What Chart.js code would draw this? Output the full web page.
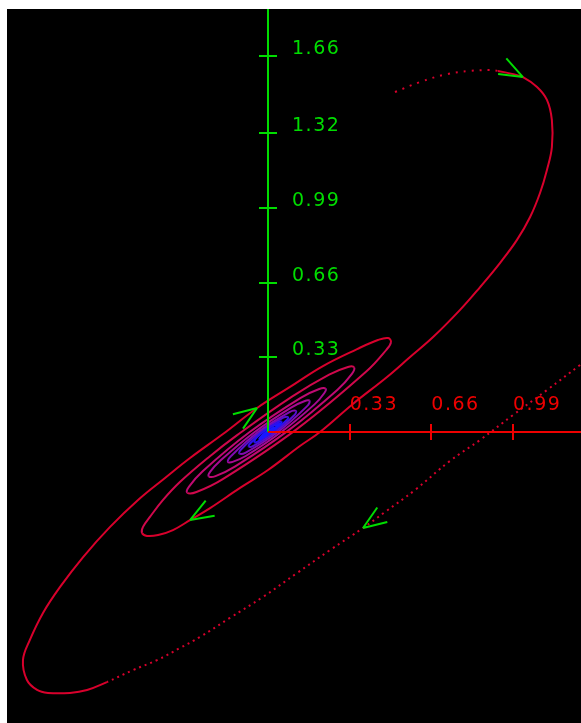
<!DOCTYPE html>
<html>
<head>
<meta charset="utf-8">
<title>Phase portrait</title>
<script src="https://cdn.jsdelivr.net/npm/chart.js@4"></script>
<style>
    html, body { margin: 0; padding: 0; background: #fff; }
    #wrap { position: absolute; left: 7px; top: 9px; width: 574px; height: 714px; background: #000; }
</style>
</head>
<body>
<div id="wrap"><canvas id="phaseChart" width="574" height="714"></canvas></div>
<script>
// ============================================
// Data: two trajectories, each split in half turns
// (first row = fast, dotted stretch; then outer -> inner)
// ============================================
const trajAX = [
    [0.513, 0.614, 0.723, 0.816, 0.897, 0.929],
    [0.986, 1.030, 1.087, 1.127, 1.147, 1.147, 1.127, 1.099, 1.059, 1.006,
     0.937, 0.857, 0.776, 0.667, 0.574, 0.481, 0.343, 0.210, 0.129, 0,
     -0.113, -0.234, -0.315, -0.384, -0.444, -0.489, -0.509],
    [-0.505, -0.477, -0.424, -0.356, -0.237, -0.126, 0.097, 0.247, 0.323, 0.348],
    [0.339, 0.281, 0.081, -0.134, -0.212, -0.239],
    [-0.234, -0.193, -0.055, 0.095, 0.149, 0.168],
    [0.156, 0.040, -0.090, -0.116],
    [-0.108, -0.029, 0.062, 0.081],
    [0.076, 0.020, -0.042, -0.055],
    [-0.045, -0.010, 0.035, 0.045, 0.030, 0.005, -0.025, -0.030, -0.012, 0.010, 0.015, 0],
];
const trajAY = [
    [1.501, 1.545, 1.580, 1.594, 1.598, 1.594],
    [1.581, 1.567, 1.523, 1.466, 1.377, 1.258, 1.157, 1.055, 0.949, 0.848,
     0.746, 0.640, 0.539, 0.419, 0.331, 0.243, 0.124, 0, -0.062, -0.168,
     -0.247, -0.336, -0.389, -0.433, -0.455, -0.459, -0.446],
    [-0.419, -0.375, -0.300, -0.221, -0.109, -0.015, 0.156, 0.253, 0.287, 0.285],
    [0.257, 0.187, 0.006, -0.153, -0.195, -0.196],
    [-0.176, -0.127, -0.001, 0.109, 0.137, 0.138],
    [0.112, 0, -0.091, -0.095],
    [-0.076, 0.001, 0.063, 0.066],
    [0.053, 0, -0.043, -0.045],
    [-0.022, 0.008, 0.035, 0.037, 0.020, -0.002, -0.022, -0.024, -0.006, 0.010, 0.012, 0],
];

const trajBX = [
    [1.261, 1.127, 0.990, 0.857, 0.735, 0.594, 0.473, 0.384, 0.251, 0.117,
     -0.020, -0.154, -0.275, -0.356, -0.448, -0.545, -0.651],
    [-0.731, -0.800, -0.889, -0.933, -0.974, -0.990, -0.962, -0.909, -0.840, -0.747,
     -0.638, -0.525, -0.416, -0.315, -0.182, -0.044, 0.089, 0.222, 0.360, 0.444,
     0.485, 0.497],
    [0.479, 0.397, 0.119, -0.181, -0.289, -0.326],
    [-0.319, -0.264, -0.074, 0.132, 0.207, 0.233],
    [0.227, 0.189, 0.055, -0.090, -0.143, -0.162],
    [-0.150, -0.039, 0.087, 0.113],
    [0.106, 0.029, -0.059, -0.078],
    [-0.072, -0.019, 0.042, 0.055],
    [0.045, 0.012, -0.028, -0.035, -0.020, 0.020, 0.024, 0],
];
const trajBY = [
    [0.296, 0.185, 0.075, -0.035, -0.128, -0.256, -0.353, -0.424, -0.521, -0.623,
     -0.728, -0.821, -0.905, -0.954, -1.007, -1.051, -1.104],
    [-1.139, -1.152, -1.152, -1.139, -1.095, -1.007, -0.918, -0.799, -0.684, -0.552,
     -0.419, -0.300, -0.203, -0.115, -0.009, 0.106, 0.199, 0.291, 0.366, 0.406,
     0.415, 0.397],
    [0.364, 0.267, 0.015, -0.207, -0.265, -0.268],
    [-0.241, -0.173, 0.000, 0.151, 0.190, 0.191],
    [0.171, 0.123, 0.001, -0.106, -0.132, -0.132],
    [-0.107, 0.001, 0.088, 0.093],
    [0.074, -0.001, -0.061, -0.064],
    [-0.051, 0.001, 0.043, 0.045],
    [0.030, -0.001, -0.030, -0.030, -0.012, 0.018, 0.020, 0],
];

// arrow heads: [half turn, point index]
const arrowsA = [[1, 1], [1, 22]];
const arrowsB = [[0, 7], [1, 15]];

const xTicks = [0.33, 0.66, 0.99];
const yTicks = [0.33, 0.66, 0.99, 1.32, 1.66];
const xTickLabels = ["0.33", "0.66", "0.99"];
const yTickLabels = ["0.33", "0.66", "0.99", "1.32", "1.66"];

// visible window
const xMin = -1.0545, xMax = 1.2646;
const yMin = -1.2848, yMax = 1.8675;

// ============================================
// Styles
// ============================================
const GREEN = "#00dd00";
const AXIS_RED = "#ee0000";
// red outside -> blue at the centre
const bandColors = ["#d8002c", "#d0084c", "#c00a72", "#a80a92", "#800cb0", "#5410d0", "#2c10ee", "#1818ff"];

function flatten(xs, ys) {
    const pts = [];
    const piece = [];
    xs.forEach((row, k) => {
        row.forEach((v, i) => {
            pts.push({ x: v, y: ys[k][i] });
            piece.push(k);
        });
    });
    return { pts, piece };
}

function makeDataset(xs, ys, dash) {
    const f = flatten(xs, ys);
    return {
        data: f.pts,
        showLine: true,
        pointRadius: 0,
        borderWidth: 2,
        borderColor: bandColors[0],
        tension: 0.4,
        segment: {
            borderColor: (c) => bandColors[Math.max(0, f.piece[c.p1DataIndex] - 1)],
            borderDash: (c) => (f.piece[c.p1DataIndex] === 0 ? dash : []),
        },
    };
}

// ============================================
// Plugin: axes through the origin, labels, arrow heads
// ============================================
function drawArrows(chart, xs, ys, list) {
    const { ctx, scales } = chart;
    const px = (k, i) => [scales.x.getPixelForValue(xs[k][i]), scales.y.getPixelForValue(ys[k][i])];
    list.forEach(([k, i]) => {
        const tip = px(k, i);
        const prev = px(k, i - 1);
        const next = px(k, i + 1);
        const ang = Math.atan2(next[1] - prev[1], next[0] - prev[0]);
        ctx.beginPath();
        [0.36, -0.36].forEach((d) => {
            ctx.moveTo(tip[0], tip[1]);
            ctx.lineTo(tip[0] - 25 * Math.cos(ang + d), tip[1] - 25 * Math.sin(ang + d));
        });
        ctx.stroke();
    });
}

const phaseAxes = {
    id: "phaseAxes",
    afterDatasetsDraw(chart) {
        const { ctx, chartArea, scales } = chart;
        const ox = scales.x.getPixelForValue(0);
        const oy = scales.y.getPixelForValue(0);
        ctx.save();
        ctx.lineWidth = 2;

        // vertical axis (green), only above the origin
        ctx.strokeStyle = GREEN;
        ctx.beginPath();
        ctx.moveTo(ox, oy);
        ctx.lineTo(ox, chartArea.top);
        yTicks.forEach((v) => {
            const py = Math.round(scales.y.getPixelForValue(v));
            ctx.moveTo(ox - 9, py);
            ctx.lineTo(ox + 9, py);
        });
        ctx.stroke();

        // horizontal axis (red), only right of the origin
        ctx.strokeStyle = AXIS_RED;
        ctx.beginPath();
        ctx.moveTo(ox, oy);
        ctx.lineTo(chartArea.right, oy);
        xTicks.forEach((v) => {
            const px = Math.round(scales.x.getPixelForValue(v));
            ctx.moveTo(px, oy - 8);
            ctx.lineTo(px, oy + 8);
        });
        ctx.stroke();

        // tick labels
        ctx.font = "19px 'DejaVu Sans', sans-serif";
        ctx.letterSpacing = "1.5px";
        ctx.textBaseline = "alphabetic";
        ctx.textAlign = "left";
        ctx.fillStyle = GREEN;
        yTickLabels.forEach((t, i) => {
            ctx.fillText(t, ox + 24, scales.y.getPixelForValue(yTicks[i]) - 2);
        });
        ctx.fillStyle = AXIS_RED;
        xTickLabels.forEach((t, i) => {
            ctx.fillText(t, scales.x.getPixelForValue(xTicks[i]), oy - 22);
        });

        // direction arrows
        ctx.strokeStyle = GREEN;
        ctx.lineWidth = 2;
        drawArrows(chart, trajAX, trajAY, arrowsA);
        drawArrows(chart, trajBX, trajBY, arrowsB);
        ctx.restore();
    },
};

// ============================================
// Chart
// ============================================
new Chart(document.getElementById("phaseChart").getContext("2d"), {
    type: "scatter",
    data: {
        datasets: [
            makeDataset(trajBX, trajBY, [2, 4]),
            makeDataset(trajAX, trajAY, [2, 6]),
        ],
    },
    options: {
        responsive: false,
        animation: false,
        events: [],
        layout: { padding: 0 },
        plugins: { legend: { display: false }, tooltip: { enabled: false } },
        scales: {
            x: { type: "linear", min: xMin, max: xMax, display: false },
            y: { type: "linear", min: yMin, max: yMax, display: false },
        },
    },
    plugins: [phaseAxes],
});
</script>
</body>
</html>
